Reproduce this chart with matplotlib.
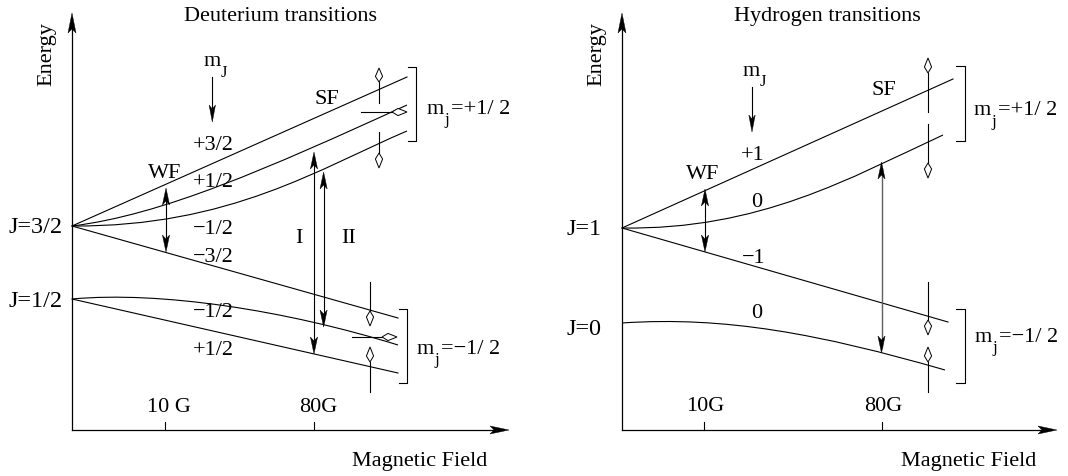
import matplotlib
matplotlib.use('Agg')
import numpy as np
import matplotlib.pyplot as plt
from matplotlib.path import Path
from matplotlib.patches import PathPatch, Polygon

plt.rcParams['font.family'] = ['Liberation Serif', 'DejaVu Serif']

W_PX, H_PX = 1068, 476
FS = 16

# ---------------- Deuterium panel (pixel coords, y grows downwards) ----------------
d_axis_x, d_axis_y = 72, 430
d_axis_top, d_axis_right = 13, 509
d_plus32 = [(72, 226), (407, 77)]
d_plus12 = [(72, 226), (162, 215), (267, 169), (407, 105)]
d_minus12 = [(72, 226), (230, 227), (320, 168), (407, 131)]
d_minus32 = [(72, 226), (398, 318)]
d_low_minus12 = [(72, 299), (160, 291), (285, 310), (398, 345)]
d_low_plus12 = [(72, 299), (398, 373)]
d_ticks = [165, 314]
d_tick_labels = ['10 G', '80G']
d_mj = ['+3/2', '+1/2', '\u22121/2', '\u22123/2', '\u22121/2', '+1/2']
d_mj_y = [150, 187, 234, 262, 317, 355]
d_J = ['J=3/2', 'J=1/2']
d_J_y = [233, 307]
# transitions: (x, top, bottom)
d_wf = (166, 188, 252)
d_tr = [(314, 152, 354), (323.6, 172, 327)]
d_tr_names = ['I', 'II']
# SF rf-coil markers: (line start, diamond base, diamond tip)
d_sf = [((379, 103), (379, 82), (379, 68)),
        ((361, 112), (392, 112), (407, 112)),
        ((379, 132), (379, 153), (379, 168)),
        ((370, 282), (370, 311), (370, 326)),
        ((352, 337), (382, 337), (397, 337)),
        ((370, 392), (370, 362), (370, 347))]
d_brackets = [(416, 67, 141, 408), (407, 309, 383, 399)]

# ---------------- Hydrogen panel ----------------
h_axis_x, h_axis_y = 622, 430
h_axis_top, h_axis_right = 13, 1057
h_plus1 = [(622, 228), (953, 79)]
h_zero = [(622, 228), (760, 230), (850, 178), (943, 135)]
h_minus1 = [(622, 228), (948, 322)]
h_low_zero = [(622, 323), (725, 316), (820, 334), (945, 370)]
h_ticks = [704, 881.5]
h_tick_labels = ['10G', '80G']
h_mj = ['+1', '0', '\u22121', '0']
h_mj_x = [753, 757, 753.5, 757]
h_mj_y = [160, 207, 263, 318]
h_J = ['J=1', 'J=0']
h_J_y = [235, 335]
h_wf = (705, 189, 252)
h_tr = (881.5, 162, 353)
h_sf = [((928, 112), (928, 73), (928, 58)),
        ((928, 124), (928, 163), (928, 178)),
        ((928, 282), (928, 320), (928, 335)),
        ((928, 392), (928, 362), (928, 347))]
h_brackets = [(965, 66, 141, 956), (965, 309, 383, 956)]

fig = plt.figure(figsize=(W_PX / 100, H_PX / 100), dpi=100)
ax = fig.add_axes([0, 0, 1, 1])
ax.set_xlim(0, W_PX)
ax.set_ylim(H_PX, 0)
ax.axis('off')
LW = 0.8


def level(pts, color='k'):
    if len(pts) == 2:
        xs, ys = zip(*pts)
        ax.plot(xs, ys, color=color, lw=LW)
    else:
        p = Path(pts, [Path.MOVETO, Path.CURVE4, Path.CURVE4, Path.CURVE4])
        ax.add_patch(PathPatch(p, fill=False, lw=LW, ec=color))


def head(tip, frm, L=17, hw=3.6, notch=4, color='k'):
    tip = np.array(tip, float)
    d = tip - np.array(frm, float)
    u = d / np.hypot(*d)
    n = np.array([-u[1], u[0]])
    base = tip - u * L
    pts = [tip, base + n * hw, tip - u * (L - notch), base - n * hw]
    ax.add_patch(Polygon(pts, closed=True, fc=color, ec=color, lw=0.3, zorder=4))


def vtrans(x, top, bottom, shaft='k', lw=LW):
    ax.plot([x, x], [top + 6, bottom - 6], color=shaft, lw=lw)
    head((x, top), (x, bottom))
    head((x, bottom), (x, top))


def diamond(start, base, tip, hw=3.6, frac=0.4):
    ax.plot([start[0], base[0]], [start[1], base[1]], color='k', lw=LW)
    b = np.array(base, float)
    t = np.array(tip, float)
    u = (t - b) / np.hypot(*(t - b))
    n = np.array([-u[1], u[0]])
    w = b + (t - b) * frac
    ax.add_patch(Polygon([t, w + n * hw, b, w - n * hw], closed=True,
                         fc='white', ec='k', lw=0.7, zorder=4))


def bracket(x, y0, y1, x0):
    ax.plot([x0, x, x, x0], [y0, y0, y1, y1], color='k', lw=LW)


def axes_arrows(x0, y0, top, right):
    ax.plot([x0, x0], [y0, top + 8], color='k', lw=0.9)
    ax.plot([x0, right - 8], [y0, y0], color='k', lw=0.9)
    head((x0, top), (x0, y0), L=20, hw=4)
    head((right, y0), (x0, y0), L=19, hw=4)


def m_label(x, y, sub, rest='', sfs=12, drop=10.5):
    r = fig.canvas.get_renderer()
    t = ax.text(x, y, 'm', fontsize=FS, va='baseline', ha='left')
    x1 = t.get_window_extent(r).x1
    s = ax.text(x1, y + drop, sub, fontsize=sfs, va='baseline', ha='left')
    if rest:
        ax.text(s.get_window_extent(r).x1 + 2, y, rest, fontsize=FS,
                va='baseline', ha='left')


def txt(x, y, s, ha='center', **kw):
    ax.text(x, y, s, fontsize=kw.pop('fontsize', FS), ha=ha, va='baseline', **kw)


# ---- deuterium ----
axes_arrows(d_axis_x, d_axis_y, d_axis_top, d_axis_right)
for c in [d_plus32, d_plus12, d_minus12, d_minus32, d_low_minus12, d_low_plus12]:
    level(c)
for x, lab in zip(d_ticks, d_tick_labels):
    ax.plot([x, x], [422, d_axis_y], color='k', lw=LW)
    txt(x + 4, 412, lab)
for lab, y in zip(d_mj, d_mj_y):
    txt(213, y, lab)
for lab, y in zip(d_J, d_J_y):
    txt(36, y, lab, fontsize=17.5)
vtrans(*d_wf)
for (x, t, b), name, lx in zip(d_tr, d_tr_names, [299, 349]):
    vtrans(x, t, b)
    txt(lx, 243, name)
for s in d_sf:
    diamond(*s)
for b in d_brackets:
    bracket(*b)
txt(165, 178, 'WF')
txt(327, 104, 'SF')
txt(281, 21, 'Deuterium transitions')
txt(420, 466, 'Magnetic Field')
ax.text(47, 54, 'Energy', fontsize=FS, rotation=90, ha='center', va='center')
m_label(203.5, 66.5, 'J')
ax.plot([212.3, 212.3], [77, 110], color='k', lw=LW)
head((212.3, 122), (212.3, 77), L=17, hw=3.2)
m_label(427, 114, 'j', '=+1/ 2')
m_label(417, 354, 'j', '=\u22121/ 2')

# ---- hydrogen ----
axes_arrows(h_axis_x, h_axis_y, h_axis_top, h_axis_right)
for c in [h_plus1, h_zero, h_minus1, h_low_zero]:
    level(c)
for x, lab in zip(h_ticks, h_tick_labels):
    ax.plot([x, x], [422, h_axis_y], color='k', lw=LW)
    txt(x + 1.5, 411, lab)
for lab, x, y in zip(h_mj, h_mj_x, h_mj_y):
    txt(x, y, lab)
for lab, y in zip(h_J, h_J_y):
    txt(584, y, lab, fontsize=17.5)
vtrans(*h_wf)
vtrans(*h_tr, shaft='#606060', lw=1.0)
for s in h_sf:
    diamond(*s)
for b in h_brackets:
    bracket(*b)
txt(703, 179, 'WF')
txt(884, 95, 'SF')
txt(827, 21, 'Hydrogen transitions')
txt(969, 466, 'Magnetic Field')
ax.text(597, 54, 'Energy', fontsize=FS, rotation=90, ha='center', va='center')
m_label(742.5, 76, 'J')
ax.plot([752, 752], [87, 120], color='k', lw=LW)
head((752, 132), (752, 87), L=17, hw=3.2)
m_label(974, 115, 'j', '=+1/ 2')
m_label(975, 342, 'j', '=\u22121/ 2')

fig.savefig('out.png', dpi=100, facecolor='white')
